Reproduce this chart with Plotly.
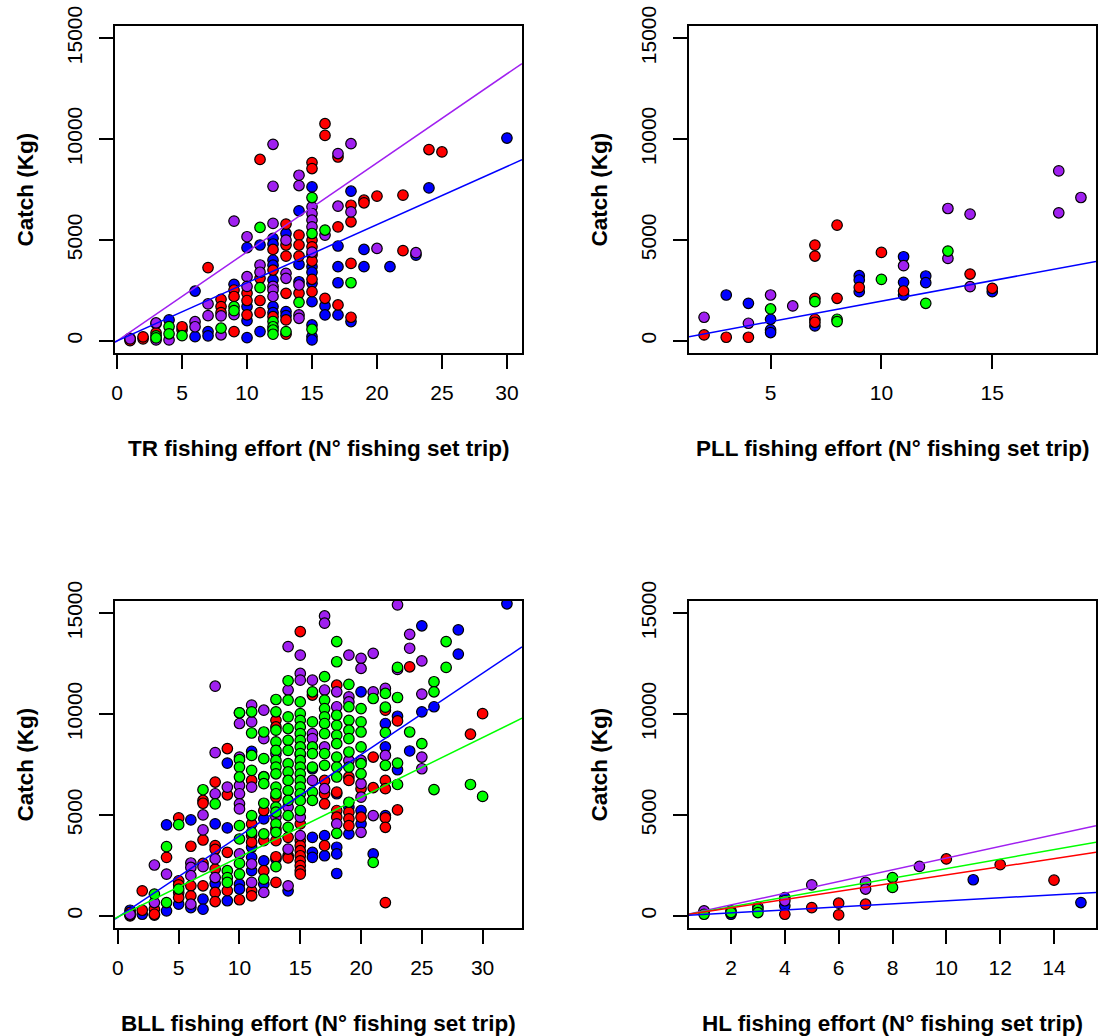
import plotly.graph_objects as go

# ---------------- data (effort, catch) per panel and colour group ----------------
Y_LIMITS = [0, 15000]
Y_TICKS = [0, 5000, 10000, 15000]

TL_TICKS = [0, 5, 10, 15, 20, 25, 30]
TR_TICKS = [5, 10, 15]
BL_TICKS = [0, 5, 10, 15, 20, 25, 30]
BR_TICKS = [2, 4, 6, 8, 10, 12, 14]

TL_TITLE = "TR fishing effort (N° fishing set trip)"
TR_TITLE = "PLL fishing effort (N° fishing set trip)"
BL_TITLE = "BLL fishing effort (N° fishing set trip)"
BR_TITLE = "HL fishing effort (N° fishing set trip)"
Y_TITLE = "Catch (Kg)"

tl_blue = [(1,60),(3,850),(4,1040),(6,2470),(6,210),(7,460),(7,250),(9,2800),(10,4620),(10,1700),(10,160),(10,1000),
           (11,4750),(11,460),(12,5080),(12,4800),(12,4000),(12,3750),(12,3020),(12,1700),(12,1400),(13,5320),(13,1450),
           (13,1250),(14,6444),(14,3790),(14,2930),(15,7630),(15,3675),(15,3400),(15,2850),(15,1945),(15,790),(15,214),
           (15,50),(16,1730),(16,1285),(17,4700),(17,3675),(17,2880),(17,1285),(18,7416),(18,956),(19,4530),(19,3675),
           (21,3675),(23,4250),(24,7580),(30,10050)]
tl_red = [(1,130),(1,15),(2,100),(2,200),(3,400),(5,540),(5,700),(7,3630),(8,2060),(8,1700),(8,1400),(9,2520),(9,460),
          (9,2200),(10,2360),(10,1290),(10,2000),(11,8990),(11,3100),(11,2000),(11,1400),(12,4530),(12,3510),(12,1200),
          (13,5785),(13,4750),(13,4200),(13,2357),(13,1040),(13,330),(14,5240),(14,4750),(14,4200),(14,2360),(15,8833),
          (15,8537),(15,4990),(15,4660),(15,4250),(15,3955),(15,3050),(15,2440),(16,10760),(16,10180),(16,2110),
          (17,9110),(17,5650),(17,1780),(18,6720),(18,5900),(18,3840),(18,1170),(19,6970),(19,6840),(20,7170),
          (22,7220),(22,4470),(24,9480),(25,9360)]
tl_purple = [(1,100),(3,890),(3,50),(4,50),(6,950),(6,700),(7,1830),(7,1250),(8,1240),(8,300),(9,5935),(9,1300),
             (10,5160),(10,3180),(10,2700),(11,3760),(11,3400),(12,9740),(12,7660),(12,5820),(12,2700),(12,2520),
             (12,2200),(13,4990),(13,3345),(13,3100),(14,8207),(14,7696),(14,2770),(14,1285),(14,1120),(15,6640),
             (15,6310),(15,5980),(15,5650),(15,4400),(16,5240),(17,9280),(17,6674),(18,9770),(18,6390),(20,4580),
             (23,4370)]
tl_green = [(3,250),(3,150),(4,710),(4,350),(5,260),(8,630),(9,1700),(9,1500),(11,5620),(11,2640),(12,960),(12,700),
            (12,540),(12,330),(13,460),(14,1910),(15,7100),(15,5320),(15,577),(16,5490),(18,2880)]

tr_blue = [(3,2274),(4,1862),(5,1071),(5,544),(5,412),(7,742),(9,3230),(9,3016),(9,2439),(11,4169),(11,2900),
           (11,2274),(12,3214),(12,2884),(15,2439)]
tr_red = [(2,297),(3,181),(4,181),(7,4746),(7,4202),(7,2110),(7,1071),(7,923),(8,5735),(8,2110),(9,2653),(10,4384),
          (11,2472),(14,3312),(15,2604)]
tr_purple = [(2,1170),(4,873),(5,2274),(6,1730),(11,3724),(13,6559),(13,4087),(14,6279),(14,2686),(18,8421),
             (18,6345),(19,7103)]
tr_green = [(5,1582),(7,1945),(8,1071),(8,956),(10,3049),(12,1862),(13,4450)]

bl_blue = [(1,280),(2,80),(3,40),(4,250),(4,4510),(5,580),(6,4755),(6,410),(7,830),(7,330),(8,4560),(8,1600),
           (9,7570),(9,4360),(9,750),(10,1570),(10,1330),(11,8150),(11,3400),(11,2900),(11,2240),(12,4810),(12,2730),
           (12,1570),(13,2820),(14,1240),(15,8000),(16,7290),(16,3890),(16,3150),(16,2900),(17,3980),(17,2980),
           (18,6050),(18,3400),(18,3070),(18,2100),(19,5390),(19,4060),(20,11100),(20,5220),(20,4560),(21,3070),
           (22,9530),(22,8370),(22,4970),(23,9890),(23,7240),(24,8170),(25,14370),(25,10110),(26,10360),
           (28,14170),(28,12970),(32,15460)]
bl_red = [(1,0),(1,170),(1,40),(2,1240),(2,280),(3,330),(3,80),(4,2900),(5,4855),(5,1740),(5,1540),(5,1160),(5,910),
          (6,3450),(6,1490),(6,995),(7,5720),(7,5580),(7,3760),(7,2600),(7,1490),(8,6630),(8,3480),(8,3300),(8,2320),
          (8,1160),(8,710),(9,8290),(9,6000),(9,3150),(9,1250),(10,800),(11,6710),(11,4560),(11,3980),(11,3650),
          (11,1240),(11,995),(12,5220),(12,3730),(12,2240),(13,9690),(13,9360),(13,5880),(13,4310),(13,3730),
          (13,2930),(13,1660),(14,3890),(14,2980),(14,2870),(15,14085),(15,4560),(15,3730),(15,3480),(15,3230),
          (15,2980),(15,2730),(15,2490),(15,2240),(15,2070),(16,10940),(17,6710),(17,6050),(17,5550),(17,3480),
          (18,11430),(18,6130),(18,5220),(18,4890),(19,6880),(19,6710),(19,5140),(19,4810),(19,4470),(20,6300),
          (20,4890),(21,7870),(21,6350),(22,10190),(22,6710),(22,6300),(22,4860),(22,4390),(22,660),(23,9660),
          (23,5250),(24,12340),(29,9000),(30,10020)]
bl_purple = [(1,80),(3,2520),(3,660),(4,2070),(6,2620),(6,2400),(6,1990),(6,580),(7,5000),(7,4260),(7,2440),
             (8,11380),(8,8090),(8,6050),(8,2820),(8,1900),(9,6380),(10,10060),(10,9530),(10,7870),(10,6460),
             (10,6050),(10,5550),(10,5300),(10,3070),(11,10440),(11,9610),(11,6380),(11,2570),(11,1660),(12,10190),
             (12,8780),(12,6900),(12,1160),(13,8040),(13,4890),(14,13340),(14,11190),(14,5390),(14,3310),(14,1490),
             (15,12920),(15,12010),(15,11680),(15,4890),(15,3980),(16,11680),(16,9030),(16,8780),(16,6710),
             (17,14860),(17,14500),(17,11190),(17,8370),(17,6300),(18,11100),(18,10360),(18,4560),(19,12920),
             (19,10850),(19,10600),(19,7700),(20,12760),(20,12260),(20,7700),(20,6550),(20,5880),(20,4140),
             (21,13010),(21,11100),(21,4970),(22,11270),(22,7950),(23,15410),(23,12210),(24,13950),(24,13260),
             (25,12630),(25,10990),(25,7870),(25,7290)]
bl_green = [(3,1080),(4,3430),(4,660),(5,4520),(5,1330),(7,6250),(8,5550),(9,2240),(9,1900),(9,1660),(10,10060),
            (10,7740),(10,7370),(10,6880),(10,4470),(10,3810),(10,2600),(10,2070),(11,10110),(11,9060),(11,7950),
            (11,7210),(11,4970),(11,4140),(12,9110),(12,7790),(12,6880),(12,6550),(12,5580),(12,4060),(12,1820),
            (13,10720),(13,10110),(13,9200),(13,8620),(13,8200),(13,7700),(13,7370),(13,7040),(13,6380),(13,6050),
            (13,5390),(13,5140),(13,4560),(13,4140),(13,2440),(14,11650),(14,10690),(14,9860),(14,9280),(14,8700),
            (14,8200),(14,7540),(14,7130),(14,6710),(14,6210),(14,5720),(14,4970),(14,4390),(15,10600),(15,10020),
            (15,9690),(15,9360),(15,9030),(15,8700),(15,8370),(15,8040),(15,7700),(15,7370),(15,7040),(15,6710),
            (15,6380),(15,6050),(15,5720),(15,5220),(16,11100),(16,9610),(16,8370),(16,8040),(16,7370),(16,6130),
            (16,5720),(17,11850),(17,10690),(17,10270),(17,9860),(17,9530),(17,9030),(17,8040),(17,7460),
            (18,13590),(18,12590),(18,9940),(18,9440),(18,8950),(18,8530),(18,7870),(18,7370),(18,6880),(18,4090),
            (19,11470),(19,10360),(19,9690),(19,9200),(19,8780),(19,8120),(19,7370),(19,5630),(20,10270),
            (20,9610),(20,9110),(20,8370),(20,7540),(20,7040),(21,10770),(21,2650),(22,11020),(22,10340),
            (22,9080),(22,7460),(23,12310),(23,10820),(23,7570),(23,6510),(24,9110),(25,8530),(26,11600),
            (26,11100),(26,6260),(27,13590),(27,12310),(29,6510),(30,5920)]

br_blue = [(1,200),(2,80),(4,910),(4,500),(11,1790),(15,660)]
br_red = [(4,80),(5,410),(6,630),(6,50),(7,580),(10,2820),(12,2540),(14,1770)]
br_purple = [(1,250),(2,250),(3,450),(4,750),(5,1540),(7,1660),(7,1330),(9,2450)]
br_green = [(1,80),(2,165),(3,330),(3,165),(8,1900),(8,1410)]

# fitted lines: (group, intercept, slope)
tl_fits = [("purple", 0, 441), ("blue", 0, 288)]
tr_fits = [("blue", -60, 203)]
bl_fits = [("blue", -70, 403), ("green", -45, 296)]
br_fits = [("purple", -40, 290), ("green", -20, 236), ("red", -5, 203), ("blue", 0, 74.5)]

COLORS = {"red": "#FF0000", "blue": "#0000FF", "green": "#00FF00", "purple": "#A020F0"}
FONT = "Arial, Liberation Sans, sans-serif"

W, H = 1099, 1036
# plot boxes in pixels: (left, right, top, bottom)
BOXES = [(115, 522, 26, 353), (689, 1096, 26, 353), (115, 522, 601, 928), (689, 1096, 601, 928)]

panels = [
    ({"blue": tl_blue, "red": tl_red, "purple": tl_purple, "green": tl_green}, tl_fits, TL_TICKS, TL_TITLE),
    ({"blue": tr_blue, "red": tr_red, "purple": tr_purple, "green": tr_green}, tr_fits, TR_TICKS, TR_TITLE),
    ({"blue": bl_blue, "red": bl_red, "purple": bl_purple, "green": bl_green}, bl_fits, BL_TICKS, BL_TITLE),
    ({"blue": br_blue, "red": br_red, "purple": br_purple, "green": br_green}, br_fits, BR_TICKS, BR_TITLE),
]


def ext(lo, hi):
    d = (hi - lo) * 0.04
    return [lo - d, hi + d]


fig = go.Figure()
yr = ext(*Y_LIMITS)
annotations = []
for i, (groups, fits, xticks, xtitle) in enumerate(panels):
    n = "" if i == 0 else str(i + 1)
    xs_all = [p[0] for g in groups.values() for p in g]
    xr = ext(min(xs_all), max(xs_all))
    for name, pts in groups.items():
        fig.add_trace(go.Scatter(
            x=[p[0] for p in pts], y=[p[1] for p in pts], mode="markers",
            xaxis="x" + n, yaxis="y" + n,
            marker=dict(size=10.5, color=COLORS[name], line=dict(color="black", width=1.2)),
            hoverinfo="skip"))
    for name, a, b in fits:
        fig.add_trace(go.Scatter(
            x=xr, y=[a + b * xr[0], a + b * xr[1]], mode="lines",
            xaxis="x" + n, yaxis="y" + n,
            line=dict(color=COLORS[name], width=1.5), hoverinfo="skip"))
    l, r, t, b = BOXES[i]
    common = dict(showline=True, linecolor="black", linewidth=1.5, mirror=True,
                  ticks="outside", ticklen=14, tickwidth=1.5, tickcolor="black",
                  showgrid=False, zeroline=False, tickformat="d", automargin=False,
                  tickfont=dict(family=FONT, size=21, color="black"))
    fig.update_layout(**{
        "xaxis" + n: dict(domain=[l / W, r / W], range=xr, anchor="y" + n,
                          tickmode="array", tickvals=xticks, ticklabelstandoff=6, **common),
        "yaxis" + n: dict(domain=[1 - b / H, 1 - t / H], range=yr, anchor="x" + n,
                          tickmode="array", tickvals=Y_TICKS, tickangle=-90, ticklabelstandoff=9, **common),
    })
    annotations.append(dict(text="<b>" + xtitle + "</b>", xref="paper", yref="paper",
                            x=(l + r) / 2 / W, y=1 - (b + 95) / H, xanchor="center", yanchor="middle",
                            showarrow=False, font=dict(family=FONT, size=22.5, color="black")))
    annotations.append(dict(text="<b>" + Y_TITLE + "</b>", xref="paper", yref="paper",
                            x=(l - 90) / W, y=1 - (t + b) / 2 / H, xanchor="center", yanchor="middle",
                            textangle=-90, showarrow=False,
                            font=dict(family=FONT, size=22.5, color="black")))

fig.update_layout(width=W, height=H, autosize=False, margin=dict(l=0, r=0, t=0, b=0, pad=0),
                  paper_bgcolor="white", plot_bgcolor="white", showlegend=False,
                  annotations=annotations)
fig.write_html("out.html", config={"displayModeBar": False},
               post_script="document.body.style.margin='0px';document.body.style.overflow='hidden';")
